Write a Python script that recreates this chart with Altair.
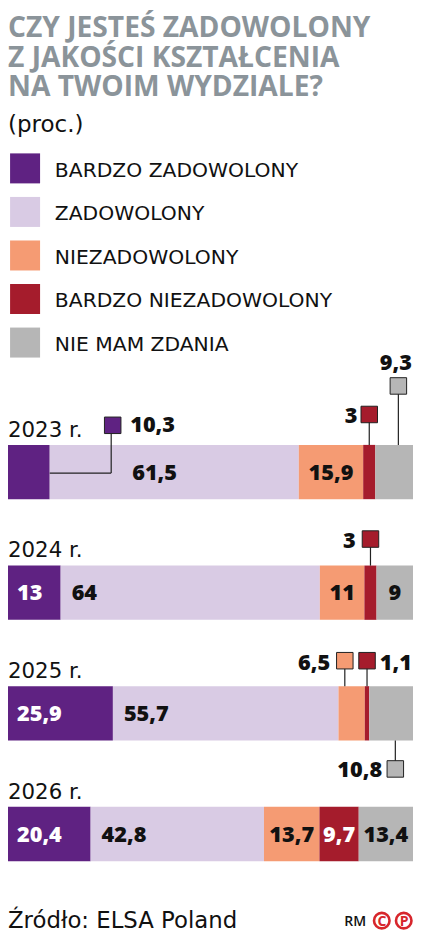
import altair as alt
import pandas as pd

# ---------------- data ----------------
title_lines = ["CZY JESTEŚ ZADOWOLONY", "Z JAKOŚCI KSZTAŁCENIA", "NA TWOIM WYDZIALE?"]
subtitle = "(proc.)"
categories = ["BARDZO ZADOWOLONY", "ZADOWOLONY", "NIEZADOWOLONY",
              "BARDZO NIEZADOWOLONY", "NIE MAM ZDANIA"]
years = ["2023 r.", "2024 r.", "2025 r.", "2026 r."]
v_bardzo_zad = [10.3, 13, 25.9, 20.4]
v_zad = [61.5, 64, 55.7, 42.8]
v_niezad = [15.9, 11, 6.5, 13.7]
v_bardzo_niezad = [3, 3, 1.1, 9.7]
v_brak = [9.3, 9, 10.8, 13.4]
source_text = "Źródło: ELSA Poland"
credit_text = "RM"

# ---------------- style ----------------
colors = ["#5f2282", "#d9cbe4", "#f59b73", "#a51c2c", "#b6b6b6"]
TITLE_COLOR = "#8b949a"
RED = "#d7262c"
INK = "#222222"
TXT = "#111111"
FONT_REG = "DejaVu Sans"
FONT_BOLD = "Open Sans"
W, H = 405, 926          # whole svg must fit the 421x948 window with 8px margins
KX, KY = 405 / 415, 0.984  # layout scale (design px -> svg px)


def px(x):
    return (x - 3) * KX


def py(y):
    return y * KY


HALF = 27.5 * KY  # half bar thickness

series = [v_bardzo_zad, v_zad, v_niezad, v_bardzo_niezad, v_brak]


def fmt(v):
    return ("%g" % v).replace(".", ",")


rows = []
for i, yr in enumerate(years):
    s = 0.0
    for c in range(5):
        v = series[c][i]
        rows.append(dict(year=yr, category=categories[c], cat=c, value=v,
                         start=s, end=s + v, mid=s + v / 2, label=fmt(v)))
        s += v
df = pd.DataFrame(rows)

xscale = alt.Scale(domain=[0, 100], range=[0, W], nice=False, zero=False)
yband = alt.Scale(type="band", domain=years, range=[py(444), py(867)],
                  paddingInner=0.55, paddingOuter=0)
fill_scale = alt.Scale(domain=categories, range=colors)


def X(field):
    return alt.X(field, type="quantitative", scale=xscale, axis=None)


def Y():
    return alt.Y("year:N", scale=yband, axis=None)


FILL = alt.Fill("category:N", scale=fill_scale, legend=None)

layers = []
one = pd.DataFrame({"k": [0]})

# title / subtitle
for line, base in zip(title_lines, [29.5, 59.6, 89.7]):
    layers.append(alt.Chart(one).mark_text(
        text=line, align="left", baseline="alphabetic", font=FONT_BOLD,
        fontWeight="bold", fontSize=28.2, color=TITLE_COLOR
    ).encode(x=alt.value(0), y=alt.value(py(base))))
layers.append(alt.Chart(one).mark_text(
    text=subtitle, align="left", baseline="alphabetic", font=FONT_REG,
    fontSize=23, color=TXT
).encode(x=alt.value(0), y=alt.value(py(126))))

# legend
leg = pd.DataFrame({"category": categories})
leg_y = alt.Y("category:N", scale=alt.Scale(type="point", domain=categories,
                                             range=[py(163), py(340)], padding=0),
              axis=None)
layers.append(alt.Chart(leg).mark_square(size=30 * 30, opacity=1).encode(
    x=alt.value(px(20.5)), y=leg_y, fill=FILL))
layers.append(alt.Chart(leg).mark_text(
    align="left", baseline="alphabetic", dy=8.3, font=FONT_REG, fontSize=20.3,
    color=TXT).encode(x=alt.value(px(51)), y=leg_y, text="category:N"))

# bars
layers.append(alt.Chart(df).mark_bar(strokeWidth=0).encode(
    x=X("start"), x2="end:Q", y=Y(), fill=FILL))

# year labels
yl = pd.DataFrame({"year": years})
layers.append(alt.Chart(yl).mark_text(
    align="left", baseline="alphabetic", dy=-HALF - 8.3, font=FONT_REG,
    fontSize=21.3, color=TXT).encode(x=alt.value(0), y=Y(), text="year:N"))

# callouts (style: square offset from segment middle, label placement; design px)
callouts = [
    ("2023 r.", 3, 0, -58.5, "right", -12, -49.5),
    ("2023 r.", 4, 4.3, -87.5, "center", -2.5, -103.5),
    ("2024 r.", 3, 0, -54.5, "right", -15, -45.5),
    ("2025 r.", 2, -7, -53.5, "right", -15, -44.5),
    ("2025 r.", 3, 0, -53.5, "left", 13, -44.5),
    ("2025 r.", 4, 4.3, 56.5, "right", -13.5, 64.5),
]
elbow = ("2023 r.", 0)
callout_keys = {(c[0], c[1]) for c in callouts} | {elbow}

NUM = dict(font=FONT_BOLD, fontWeight=800, fontSize=21.7, baseline="alphabetic")
NUM_DY = 7.6
SQ = 16.5 * 16.5

for yr, c, sdx, sdy, al, ldx, ldy in callouts:
    d = df[(df.year == yr) & (df.cat == c)]
    sdx, sdy, ldx, ldy = sdx * KX, sdy * KY, ldx * KX, ldy * KY
    L = abs(sdy) - HALF
    sign = -1 if sdy < 0 else 1
    layers.append(alt.Chart(d).mark_tick(
        orient="vertical", size=L, thickness=1.2, color=INK, opacity=1,
        xOffset=sdx, yOffset=sign * (HALF + L / 2)).encode(x=X("mid"), y=Y()))
    layers.append(alt.Chart(d).mark_square(
        size=SQ, stroke=INK, strokeWidth=1, opacity=1, xOffset=sdx, yOffset=sdy
    ).encode(x=X("mid"), y=Y(), fill=FILL))
    layers.append(alt.Chart(d).mark_text(
        align=al, dx=sdx + ldx, dy=ldy, color=TXT, **NUM
    ).encode(x=X("mid"), y=Y(), text="label:N"))

# elbow callout for the small first segment of 2023
d = df[(df.year == elbow[0]) & (df.cat == elbow[1])]
EX, EY = 63 * KX, -47.5 * KY
layers.append(alt.Chart(d).mark_tick(
    orient="horizontal", size=EX, thickness=1.2, color=INK, opacity=1,
    xOffset=EX / 2, yOffset=1).encode(x=X("end"), y=Y()))
layers.append(alt.Chart(d).mark_tick(
    orient="vertical", size=abs(EY) + 1, thickness=1.2, color=INK, opacity=1,
    xOffset=EX, yOffset=(EY + 1) / 2).encode(x=X("end"), y=Y()))
layers.append(alt.Chart(d).mark_square(
    size=SQ, stroke=INK, strokeWidth=1, opacity=1, xOffset=EX + 1.5, yOffset=EY
).encode(x=X("end"), y=Y(), fill=FILL))
layers.append(alt.Chart(d).mark_text(
    align="left", dx=EX + 19, dy=EY + 7, color=TXT, **NUM
).encode(x=X("end"), y=Y(), text="label:N"))

# labels inside bars
inside = df[[(r.year, r.cat) not in callout_keys for r in df.itertuples()]]
lab_first = inside[inside.cat == 0]
lab_second = inside[(inside.cat == 1) & (inside.year != elbow[0])]
lab_second_shift = inside[(inside.cat == 1) & (inside.year == elbow[0])]
lab_dark = inside[inside.cat.isin([2, 4])]
lab_light = inside[inside.cat == 3]

layers.append(alt.Chart(lab_first).mark_text(
    align="left", dx=9, dy=NUM_DY, color="white", **NUM
).encode(x=X("start"), y=Y(), text="label:N"))
layers.append(alt.Chart(lab_second).mark_text(
    align="left", dx=11, dy=NUM_DY, color=TXT, **NUM
).encode(x=X("start"), y=Y(), text="label:N"))
layers.append(alt.Chart(lab_second_shift).mark_text(
    align="left", dx=EX + 21, dy=NUM_DY, color=TXT, **NUM
).encode(x=X("start"), y=Y(), text="label:N"))
layers.append(alt.Chart(lab_dark).mark_text(
    align="center", dy=NUM_DY, color=TXT, **NUM
).encode(x=X("mid"), y=Y(), text="label:N"))
layers.append(alt.Chart(lab_light).mark_text(
    align="center", dy=NUM_DY, color="white", **NUM
).encode(x=X("mid"), y=Y(), text="label:N"))

# source + credit
layers.append(alt.Chart(one).mark_text(
    text=source_text, align="left", baseline="alphabetic", font=FONT_REG,
    fontSize=22.8, color=TXT).encode(x=alt.value(0), y=alt.value(919.5)))
layers.append(alt.Chart(one).mark_text(
    text=credit_text, align="right", baseline="alphabetic", font=FONT_BOLD,
    fontWeight=600, fontSize=14, color=TXT
).encode(x=alt.value(px(370)), y=alt.value(py(933))))
for cx, letter in [(386, "C"), (408.5, "P")]:
    layers.append(alt.Chart(one).mark_point(
        shape="circle", filled=False, size=240, strokeWidth=2.6, color=RED,
        opacity=1).encode(x=alt.value(px(cx)), y=alt.value(py(927.5))))
    layers.append(alt.Chart(one).mark_text(
        text=letter, align="center", baseline="alphabetic", font=FONT_BOLD,
        fontWeight="bold", fontSize=14, color=RED
    ).encode(x=alt.value(px(cx) + 0.3), y=alt.value(py(927.5) + 5)))

chart = alt.layer(*layers).properties(
    width=W, height=H, padding=0,
    autosize=alt.AutoSizeParams(type="none")
).resolve_scale(y="independent").configure_view(stroke=None)

chart.save("out.html", embed_options={"renderer": "svg", "actions": False})
